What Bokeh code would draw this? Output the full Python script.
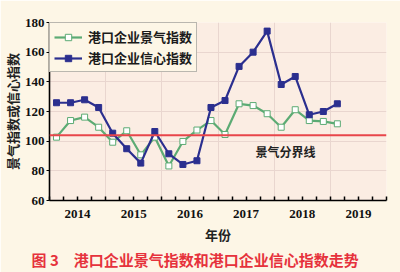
from bokeh.plotting import figure
from bokeh.models import (ColumnDataSource, FixedTicker, Span, Label, Legend, LegendItem, Title)
from bokeh.embed import file_html
from bokeh.resources import INLINE

# ---- data (quarterly, 2014Q1 .. 2019Q1) ----
years = [2014, 2015, 2016, 2017, 2018, 2019]
quarters_per_year = 4
n_points = 21
prosperity = [102.7, 113.9, 116.2, 109.4, 99.3, 107.0, 90.8, 102.7, 83.3, 99.8, 107.5,
              113.9, 104.5, 125.2, 124.0, 118.5, 109.4, 121.2, 113.9, 113.3, 111.7]
confidence = [125.9, 125.9, 127.9, 122.7, 105.4, 94.9, 85.2, 106.5, 91.5, 84.3, 86.8,
              122.7, 127.4, 150.4, 160.0, 174.2, 138.2, 143.6, 117.8, 120.0, 125.2]
y_ticks = [60, 80, 100, 120, 140, 160, 180]
boundary_value = 104
series_names = ["港口企业景气指数", "港口企业信心指数"]
title_text = "图 3\u2003港口企业景气指数和港口企业信心指数走势"
x_title = "年份"
y_title = "景气指数或信心指数"
boundary_label = "景气分界线"

t = [years[0] + (i + 0.5) / quarters_per_year for i in range(n_points)]
src = ColumnDataSource(dict(t=t, p=prosperity, c=confidence))

GREEN = "#5cab74"
BLUE = "#2b2f8f"
RED = "#e8454a"
CJK = "Noto Sans CJK SC"
SERIF = "Liberation Serif"

p = figure(width=400, height=272, output_backend="svg", toolbar_location=None,
           x_range=(years[0], years[-1] + 1), y_range=(y_ticks[0], y_ticks[-1]),
           min_border_left=43, min_border_right=14, min_border_top=22, min_border_bottom=72)
p.border_fill_color = "#fdf6e6"
p.background_fill_color = "#fbede3"
p.outline_line_alpha = 0

# axes
label_ticks = [y + 0.5 for y in years]
minor = [years[0] + k / quarters_per_year for k in range(len(years) * quarters_per_year + 1)]
p.xaxis.ticker = FixedTicker(ticks=label_ticks, minor_ticks=minor)
p.xaxis.major_label_overrides = {v: str(y) for v, y in zip(label_ticks, years)}
p.xaxis.major_tick_in = 0
p.xaxis.major_tick_out = 0
p.xaxis.minor_tick_in = 4
p.xaxis.minor_tick_out = 0
p.xaxis.minor_tick_line_color = "black"
p.xaxis.minor_tick_line_width = 1.5
p.yaxis.ticker = FixedTicker(ticks=y_ticks, minor_ticks=[])
p.yaxis.major_tick_in = 0
p.yaxis.major_tick_out = 3
for ax in (p.xaxis, p.yaxis):
    ax.axis_line_color = "black"
    ax.axis_line_width = 1.6
    ax.major_tick_line_color = "black"
    ax.major_label_text_font = SERIF
    ax.major_label_text_font_style = "bold"
    ax.major_label_text_font_size = "13px"
    ax.major_label_text_color = "#111111"
p.xaxis.major_label_standoff = 9
p.yaxis.major_label_standoff = 2

# grids
p.xgrid.ticker = FixedTicker(ticks=years[1:])
p.ygrid.ticker = FixedTicker(ticks=y_ticks)
p.xgrid.grid_line_color = "#e9d6cf"
p.ygrid.grid_line_color = "#e9d6cf"

# boundary line
p.add_layout(Span(location=boundary_value, dimension="width", line_color=RED, line_width=2))
p.add_layout(Label(x=2018.2, y=93, text=boundary_label, text_font=CJK, text_font_size="12px",
                   text_font_style="bold", text_color="#222222", text_align="center",
                   text_baseline="middle"))

# series
gl = p.line("t", "p", source=src, line_color=GREEN, line_width=2.2)
gs = p.scatter("t", "p", source=src, marker="square", size=6, fill_color="white",
               line_color=GREEN, line_width=1)
bl = p.line("t", "c", source=src, line_color=BLUE, line_width=2.2)
bs = p.scatter("t", "c", source=src, marker="square", size=6, fill_color=BLUE,
               line_color=BLUE)

legend = Legend(items=[LegendItem(label=series_names[0], renderers=[gl, gs]),
                       LegendItem(label=series_names[1], renderers=[bl, bs])],
                location="top_left")
legend.margin = 0
legend.padding = 4
legend.spacing = 2
legend.glyph_width = 28
legend.glyph_height = 16
legend.label_height = 16
legend.label_standoff = 6
legend.label_text_font = CJK
legend.label_text_font_size = "13px"
legend.label_text_font_style = "bold"
legend.label_text_color = "#1a1a1a"
legend.background_fill_color = "#fdf6e6"
legend.background_fill_alpha = 1
legend.border_line_color = "#777777"
legend.border_line_width = 1.2
p.add_layout(legend)

# titles outside the frame
xt = Title(text=x_title, align="center", text_font=CJK, text_font_size="13px",
           text_font_style="bold", text_color="#222222", standoff=5, offset=0)
p.add_layout(xt, "below")
mt = Title(text=title_text, align="left", text_font=CJK, text_font_size="15px",
           text_font_style="bold", text_color="#e6323c", standoff=1, offset=-18)
p.add_layout(mt, "below")
yt = Title(text=y_title, align="center", text_font=CJK, text_font_size="13px",
           text_font_style="bold", text_color="#222222", standoff=0, offset=0)
p.add_layout(yt, "left")

open("out.html", "w").write(file_html(p, INLINE))
